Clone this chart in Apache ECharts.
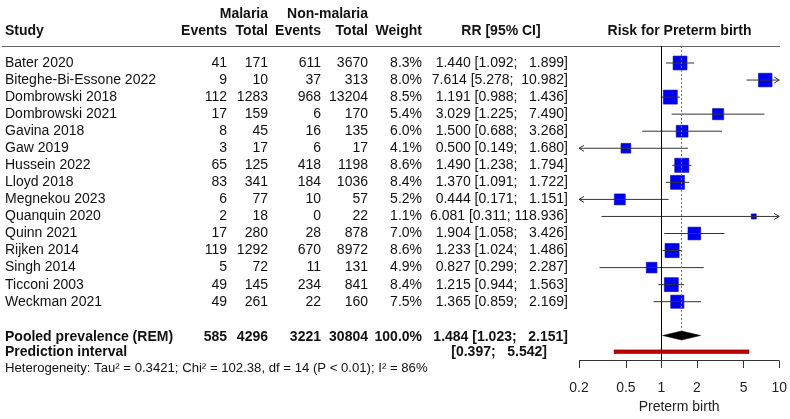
<!DOCTYPE html>
<html><head><meta charset="utf-8">
<script src="https://cdn.jsdelivr.net/npm/echarts@6/dist/echarts.min.js"></script>
<style>html,body{margin:0;padding:0;background:#fff}#c{width:790px;height:419px}</style>
</head><body><div id="c"></div>
<script>
// ---- data ----
const studies = ["Bater 2020","Biteghe-Bi-Essone 2022","Dombrowski 2018","Dombrowski 2021","Gavina 2018","Gaw 2019","Hussein 2022","Lloyd 2018","Megnekou 2023","Quanquin 2020","Quinn 2021","Rijken 2014","Singh 2014","Ticconi 2003","Weckman 2021"];
const malEvents = [41,9,112,17,8,3,65,83,6,2,17,119,5,49,49];
const malTotal = [171,10,1283,159,45,17,125,341,77,18,280,1292,72,145,261];
const nonEvents = [611,37,968,6,16,6,418,184,10,0,28,670,11,234,22];
const nonTotal = [3670,313,13204,170,135,17,1198,1036,57,22,878,8972,131,841,160];
const weights = [8.3,8.0,8.5,5.4,6.0,4.1,8.6,8.4,5.2,1.1,7.0,8.6,4.9,8.4,7.5];
const rr = [1.440,7.614,1.191,3.029,1.500,0.500,1.490,1.370,0.444,6.081,1.904,1.233,0.827,1.215,1.365];
const lower = [1.092,5.278,0.988,1.225,0.688,0.149,1.238,1.091,0.171,0.311,1.058,1.024,0.299,0.944,0.859];
const upper = [1.899,10.982,1.436,7.490,3.268,1.680,1.794,1.722,1.151,118.936,3.426,1.486,2.287,1.563,2.169];
const pooled = {label:"Pooled prevalence (REM)", malEvents:585, malTotal:4296, nonEvents:3221, nonTotal:30804, weight:100.0, rr:1.484, lower:1.023, upper:2.151};
const predInt = {label:"Prediction interval", lower:0.397, upper:5.542};
const heterogeneity = "Heterogeneity: Tau\u00b2 = 0.3421; Chi\u00b2 = 102.38, df = 14 (P < 0.01); I\u00b2 = 86%";
const xTicks = [0.2,0.5,1,2,5,10];
const xAxisName = "Preterm birth";
const plotTitle = "Risk for Preterm birth";

// ---- layout ----
const Y0 = 63, RH = 17.05;
const rowOf = px => (px - Y0) / RH;
const XMIN = 0.2, XMAX = 10;
const col = {study:5, mEv:227, mTot:268, nEv:321, nTot:368, weight:422, rr:568, pi:547, rrHead:501, plotHead:679.5};
const pooledRow = rowOf(335.5), predRow = rowOf(351.7), hetRow = rowOf(368);
const axisRow = rowOf(360.5), tickEndRow = rowOf(368);
const GRID_BOTTOM = 368.5;
const FONT = "Liberation Sans, Arial, sans-serif";

function fmt3(v){return v.toFixed(3);}
function pad(s,n){while(s.length<n) s=" "+s; return s;}
function ciStr(e,l,u){return fmt3(e)+" ["+fmt3(l)+"; "+pad(fmt3(u),7)+"]";}

// ---- texts ----
const texts = [];
function T(x,row,text,align,bold,size){texts.push({x,row,text,align:align||'left',bold:!!bold,size:size||14});}
const mr = rowOf(14.5), hr = rowOf(31);
T(col.mTot,mr,"Malaria",'right',true);
T(col.nTot,mr,"Non-malaria",'right',true);
T(col.study,hr,"Study",'left',true);
T(col.mEv,hr,"Events",'right',true);
T(col.mTot,hr,"Total",'right',true);
T(col.nEv,hr,"Events",'right',true);
T(col.nTot,hr,"Total",'right',true);
T(col.weight,hr,"Weight",'right',true);
T(col.rrHead,hr,"RR [95% CI]",'center',true);
T(col.plotHead,hr,plotTitle,'center',true);
studies.forEach((s,i)=>{
  T(col.study,i,s);
  T(col.mEv,i,String(malEvents[i]),'right');
  T(col.mTot,i,String(malTotal[i]),'right');
  T(col.nEv,i,String(nonEvents[i]),'right');
  T(col.nTot,i,String(nonTotal[i]),'right');
  T(col.weight,i,weights[i].toFixed(1)+"%",'right');
  T(col.rr,i,ciStr(rr[i],lower[i],upper[i]),'right');
});
const pr = rowOf(337.5), pir = rowOf(352);
T(col.study,pr,pooled.label,'left',true);
T(col.mEv,pr,String(pooled.malEvents),'right',true);
T(col.mTot,pr,String(pooled.malTotal),'right',true);
T(col.nEv,pr,String(pooled.nonEvents),'right',true);
T(col.nTot,pr,String(pooled.nonTotal),'right',true);
T(col.weight,pr,pooled.weight.toFixed(1)+"%",'right',true);
T(col.rr,pr,ciStr(pooled.rr,pooled.lower,pooled.upper),'right',true);
T(col.study,pir,predInt.label,'left',true);
T(col.pi,pir,"["+fmt3(predInt.lower)+"; "+pad(fmt3(predInt.upper),7)+"]",'right',true);
T(col.study,hetRow,heterogeneity,'left',false,13.15);

const studyData = studies.map((s,i)=>[rr[i],lower[i],upper[i],i,weights[i]]);

// axis line + ticks as marker lines on the log scale
const axisStyle = {color:'#333', type:'solid', width:1};
const axisMarks = [[{coord:[XMIN,axisRow], lineStyle:axisStyle},{coord:[XMAX,axisRow]}]]
  .concat(xTicks.map(v=>[{coord:[v,axisRow], lineStyle:axisStyle},{coord:[v,tickEndRow]}]));

const chart = echarts.init(document.getElementById('c'),null,{renderer:'canvas'});
chart.setOption({
  animation:false,
  grid:[
    {left:579, right:10, top:46, height:GRID_BOTTOM-46, containLabel:false},
    {left:0, top:0, width:790, height:419}
  ],
  xAxis:[
    {type:'log', logBase:10, min:XMIN, max:XMAX, gridIndex:0, position:'bottom',
     name:xAxisName, nameLocation:'middle', nameGap:28.5,
     nameTextStyle:{fontFamily:FONT,fontSize:14,color:'#222'},
     axisLine:{show:false,onZero:false},
     axisTick:{show:false},
     axisLabel:{show:true,customValues:xTicks,margin:12.5,fontFamily:FONT,fontSize:14,color:'#222',formatter:v=>String(v)},
     splitLine:{show:false}, minorTick:{show:false}},
    {type:'value', min:0, max:790, gridIndex:1, show:false}
  ],
  yAxis:[
    {type:'value', inverse:true, min:rowOf(46), max:rowOf(GRID_BOTTOM), gridIndex:0, show:false},
    {type:'value', inverse:true, min:rowOf(0), max:rowOf(419), gridIndex:1, show:false}
  ],
  series:[
    {type:'custom', xAxisIndex:1, yAxisIndex:1, silent:true, clip:false,
     data:texts.map((t,i)=>[t.x,t.row,i]),
     renderItem:(params,api)=>{
       const t = texts[api.value(2)];
       const p = api.coord([api.value(0),api.value(1)]);
       return {type:'text', x:p[0], y:p[1], style:{text:t.text, fill:'#111', align:t.align, verticalAlign:'middle',
         font:(t.bold?'bold ':'')+t.size+'px '+FONT}};
     }},
    {type:'custom', xAxisIndex:1, yAxisIndex:1, silent:true, clip:false,
     data:[[0,rowOf(46.5),780]],
     renderItem:(params,api)=>{
       const a = api.coord([api.value(0),api.value(1)]);
       const b = api.coord([api.value(2),api.value(1)]);
       return {type:'line', shape:{x1:a[0]+2,y1:a[1],x2:b[0],y2:b[1]}, style:{stroke:'#666',lineWidth:1.2}};
     }},
    {type:'custom', xAxisIndex:0, yAxisIndex:0, silent:true, clip:false,
     encode:{x:[0,1,2], y:3},
     data:studyData,
     renderItem:(params,api)=>{
       const e=api.value(0), l=api.value(1), u=api.value(2), r=api.value(3), w=api.value(4);
       const pc = api.coord([e,r]);
       const pl = api.coord([Math.max(l,XMIN),r]);
       const pu = api.coord([Math.min(u,XMAX),r]);
       const s = 4.8*Math.sqrt(w);
       const ch = [
         {type:'rect', shape:{x:pc[0]-s/2,y:pc[1]-s/2,width:s,height:s}, style:{fill:'#0000f0',stroke:'#0000a8',lineWidth:0.6}},
         {type:'line', shape:{x1:pl[0],y1:pc[1],x2:pu[0],y2:pc[1]}, style:{stroke:'#333',lineWidth:1}}
       ];
       if(l<XMIN){ch.push({type:'polyline',shape:{points:[[pl[0]+5,pc[1]-3],[pl[0],pc[1]],[pl[0]+5,pc[1]+3]]},style:{stroke:'#333',fill:null,lineWidth:1}});}
       if(u>XMAX){ch.push({type:'polyline',shape:{points:[[pu[0]-5,pc[1]-3],[pu[0],pc[1]],[pu[0]-5,pc[1]+3]]},style:{stroke:'#333',fill:null,lineWidth:1}});}
       return {type:'group', children:ch};
     },
     markLine:{silent:true, symbol:'none', label:{show:false}, animation:false,
       data:[
         [{coord:[1,rowOf(46)], lineStyle:{color:'#000',type:'solid',width:1}},{coord:[1,axisRow]}],
         [{coord:[pooled.rr,rowOf(46)], lineStyle:{color:'#777',type:[2,2],width:1}},{coord:[pooled.rr,pooledRow-0.3]}]
       ].concat(axisMarks)}
    },
    {type:'custom', xAxisIndex:0, yAxisIndex:0, silent:true, clip:false,
     encode:{x:[0,1,2], y:3},
     data:[[pooled.rr,pooled.lower,pooled.upper,pooledRow]],
     renderItem:(params,api)=>{
       const r=api.value(3);
       const c=api.coord([api.value(0),r]), l=api.coord([api.value(1),r]), u=api.coord([api.value(2),r]);
       const h=4.5;
       return {type:'polygon', shape:{points:[[l[0],c[1]],[c[0],c[1]-h],[u[0],c[1]],[c[0],c[1]+h]]}, style:{fill:'#000',stroke:'#000',lineWidth:0.5}};
     }},
    {type:'custom', xAxisIndex:0, yAxisIndex:0, silent:true, clip:false,
     encode:{x:[0,1], y:2},
     data:[[predInt.lower,predInt.upper,predRow]],
     renderItem:(params,api)=>{
       const r=api.value(2);
       const l=api.coord([api.value(0),r]), u=api.coord([api.value(1),r]);
       return {type:'rect', shape:{x:l[0],y:l[1]-1.8,width:u[0]-l[0],height:3.6}, style:{fill:'#c00000',stroke:'#700000',lineWidth:0.6}};
     }}
  ]
});
</script></body></html>
